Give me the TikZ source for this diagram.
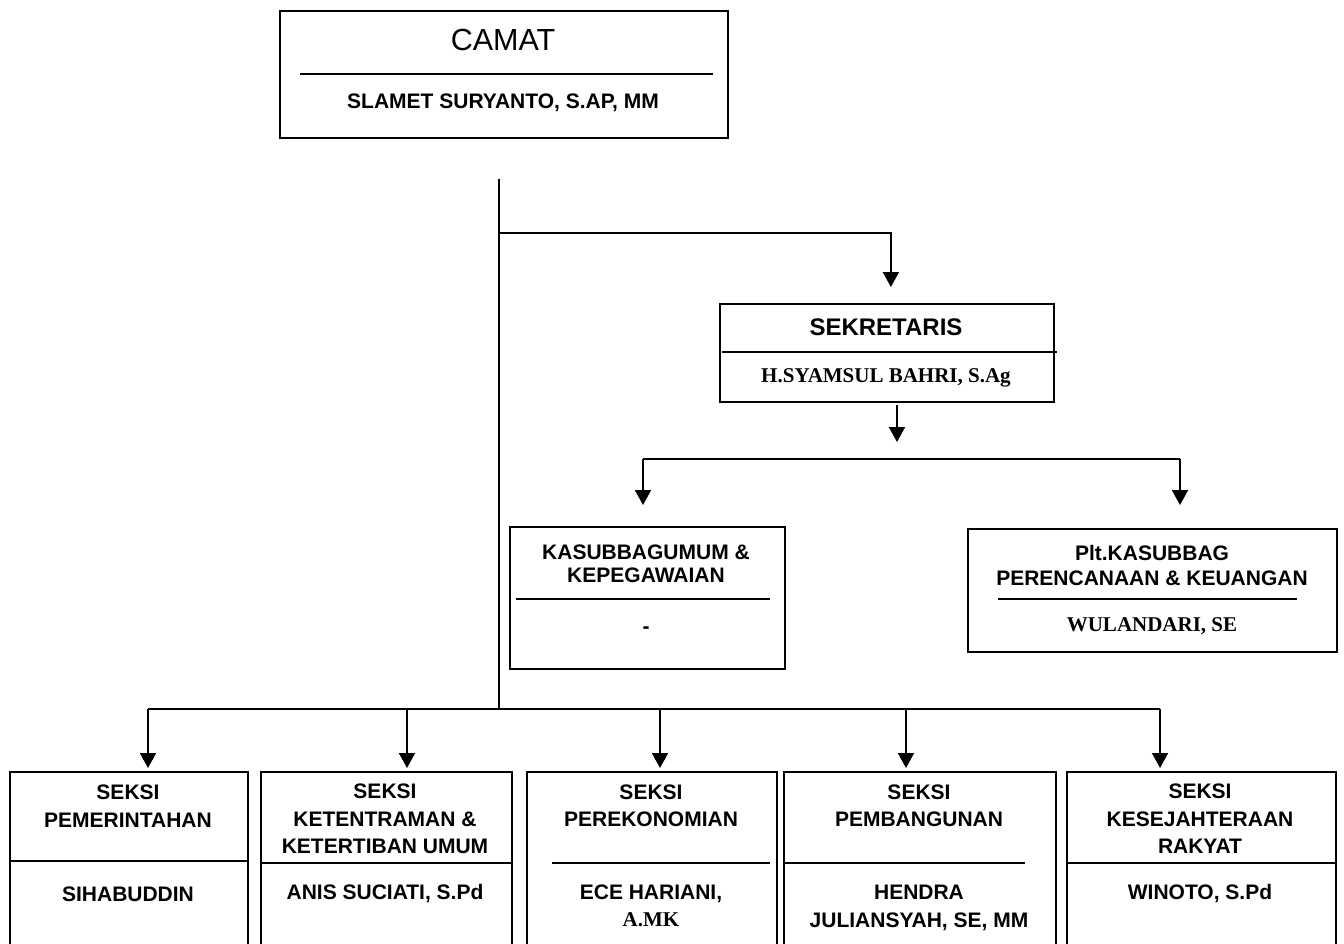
\documentclass[tikz,border=0pt]{standalone}
\usepackage{fontspec}
\setmainfont{Liberation Sans}
\newfontfamily\tnr{Liberation Serif}
\usetikzlibrary{arrows.meta}
\begin{document}
\begin{tikzpicture}[x=1pt,y=-1pt,
  box/.style={draw, line width=1.8pt, rectangle, anchor=north west, inner sep=0pt},
  conn/.style={line width=1.8pt},
  arr/.style={line width=1.8pt, -{Triangle[length=15pt,width=16pt]}},
  rulel/.style={line width=1.8pt},
  lbl/.style={font=\bfseries\fontsize{21}{27.5}\selectfont, align=center, inner sep=0pt},
  lbls/.style={font=\bfseries\fontsize{21}{24}\selectfont, align=center, inner sep=0pt},
  tnrl/.style={font=\tnr\bfseries\fontsize{21}{26}\selectfont, align=center, inner sep=0pt}]
\useasboundingbox (0,0) rectangle (1344,944);
\clip (0,0) rectangle (1344,944);

% ---------- CAMAT ----------
\node[box, minimum width=448pt, minimum height=127pt] (camat) at (279,10) {};
\node[inner sep=0pt, font=\fontsize{30.5}{34}\selectfont] (camatT) at (503,40) {CAMAT};
\draw[rulel] (300,74) -- (713,74);
\node[lbl] (camatN) at (503,103) {SLAMET SURYANTO, S.AP, MM};

% ---------- SEKRETARIS ----------
\node[box, minimum width=334pt, minimum height=98pt] (sek) at (719,303) {};
\node[inner sep=0pt, font=\bfseries\fontsize{24}{28}\selectfont] (sekT) at (886,327) {SEKRETARIS};
\draw[rulel] (722,352) -- (1057,352);
\node[tnrl] (sekN) at (886,378) {H.SYAMSUL BAHRI, S.Ag};

% ---------- KASUBBAG UMUM ----------
\node[box, minimum width=275pt, minimum height=142pt] (kas) at (509,526) {};
\node[lbls, font=\bfseries\fontsize{21}{23}\selectfont] (kasT) at (646,564) {KASUBBAGUMUM \&\\KEPEGAWAIAN};
\draw[rulel] (516,599) -- (770,599);
\node[lbl] (kasN) at (646,630) {-};

% ---------- PLT KASUBBAG ----------
\node[box, minimum width=369pt, minimum height=123pt] (plt) at (967,528) {};
\node[lbls, font=\bfseries\fontsize{21}{25}\selectfont] (pltT) at (1152,565) {Plt.KASUBBAG\\PERENCANAAN \& KEUANGAN};
\draw[rulel] (998,599) -- (1297,599);
\node[tnrl] (pltN) at (1152,626) {WULANDARI, SE};

% ---------- SEKSI boxes ----------
\node[box, minimum width=238pt, minimum height=200pt] (s1) at (9,771) {};
\node[box, minimum width=251pt, minimum height=200pt] (s2) at (260,771) {};
\node[box, minimum width=250pt, minimum height=200pt] (s3) at (526,771) {};
\node[box, minimum width=272pt, minimum height=200pt] (s4) at (783,771) {};
\node[box, minimum width=269pt, minimum height=200pt] (s5) at (1066,771) {};

\draw[rulel] (9,861) -- (247,861);
\draw[rulel] (260,863) -- (513,863);
\draw[rulel] (552,863) -- (770,863);
\draw[rulel] (783,863) -- (1025,863);
\draw[rulel] (1066,863) -- (1335,863);

\node[lbl] (s1T) at (128,806) {SEKSI\\PEMERINTAHAN};
\node[lbl] (s2T) at (385,819) {SEKSI\\KETENTRAMAN \&\\KETERTIBAN UMUM};
\node[lbl] (s3T) at (651,806) {SEKSI\\PEREKONOMIAN};
\node[lbl] (s4T) at (919,806) {SEKSI\\PEMBANGUNAN};
\node[lbl] (s5T) at (1200,819) {SEKSI\\KESEJAHTERAAN\\RAKYAT};

\node[lbl] (s1N) at (128,894) {SIHABUDDIN};
\node[lbl] (s2N) at (385,894) {ANIS SUCIATI, S.Pd};
\node[lbl] (s3N) at (651,894) {ECE HARIANI,};
\node[tnrl] (s3N2) at (651,920) {A.MK};
\node[lbl] (s4N) at (919,908) {HENDRA\\JULIANSYAH, SE, MM};
\node[lbl] (s5N) at (1200,894) {WINOTO, S.Pd};

% ---------- connectors ----------
\coordinate (trTop) at (499,179);
\coordinate (trBr) at (499,233);
\coordinate (trBot) at (499,709);
\draw[conn] (trTop) -- (trBot);
\draw[arr, shorten >=16pt] (trBr) -| ([xshift=4pt]sek.north);

\coordinate (sd0) at (897,405);
\coordinate (sd1) at (897,442);
\draw[arr] (sd0) -- (sd1);
\coordinate (hL) at (643,459);
\coordinate (hR) at (1180,459);
\draw[conn] (hL) -- (hR);
\draw[arr, shorten >=21pt] (hL) -- (hL |- kas.north);
\draw[arr, shorten >=23pt] (hR) -- (hR |- plt.north);

\coordinate (bL) at (148,709);
\coordinate (bR) at (1160,709);
\draw[conn] (bL) -- (bR);
\coordinate (b2) at (407,709);
\coordinate (b3) at (660,709);
\coordinate (b4) at (906,709);
\draw[arr, shorten >=3pt] (bL) -- (bL |- s1.north);
\draw[arr, shorten >=3pt] (b2) -- (b2 |- s2.north);
\draw[arr, shorten >=3pt] (b3) -- (b3 |- s3.north);
\draw[arr, shorten >=3pt] (b4) -- (b4 |- s4.north);
\draw[arr, shorten >=3pt] (bR) -- (bR |- s5.north);
\end{tikzpicture}
\end{document}
